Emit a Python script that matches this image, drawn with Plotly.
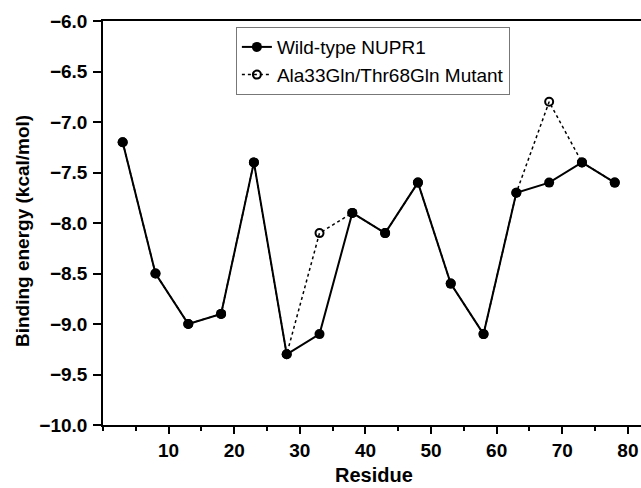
import plotly.graph_objects as go

residues = [3, 8, 13, 18, 23, 28, 33, 38, 43, 48, 53, 58, 63, 68, 73, 78]
wild_type = [-7.2, -8.5, -9.0, -8.9, -7.4, -9.3, -9.1, -7.9, -8.1, -7.6, -8.6, -9.1, -7.7, -7.6, -7.4, -7.6]
mutant = [-7.2, -8.5, -9.0, -8.9, -7.4, -9.3, -8.1, -7.9, -8.1, -7.6, -8.6, -9.1, -7.7, -6.8, -7.4, -7.6]
y_ticks = [-10.0, -9.5, -9.0, -8.5, -8.0, -7.5, -7.0, -6.5, -6.0]
x_ticks = [10, 20, 30, 40, 50, 60, 70, 80]

font = "Liberation Sans, Arial, sans-serif"

fig = go.Figure()
fig.add_trace(go.Scatter(
    x=residues, y=mutant, mode="lines+markers", name="Ala33Gln/Thr68Gln Mutant",
    line=dict(color="black", width=1.5, dash="dot"),
    marker=dict(symbol="circle-open", size=8, color="black", line=dict(width=2, color="black")),
))
fig.add_trace(go.Scatter(
    x=residues, y=wild_type, mode="lines+markers", name="Wild-type NUPR1",
    line=dict(color="black", width=2),
    marker=dict(symbol="circle", size=10, color="black"),
))

fig.update_layout(
    width=641, height=488,
    margin=dict(l=103, r=0, t=21, b=63),
    paper_bgcolor="white", plot_bgcolor="white",
    showlegend=True,
    legend=dict(
        x=0.247, y=0.985, xanchor="left", yanchor="top",
        bgcolor="white", bordercolor="#777777", borderwidth=1,
        font=dict(family=font, size=19, color="black"),
        traceorder="reversed", tracegroupgap=0,
    ),
    xaxis=dict(
        range=[0, 82], tickvals=x_ticks, ticks="outside", ticklen=7, tickwidth=1.5,
        tickcolor="black", showline=True, linecolor="black", linewidth=1.5, mirror=True,
        showgrid=False, zeroline=False,
        tickfont=dict(family=font, size=19, color="black", weight="bold"),
        minor=dict(dtick=5, tick0=5, ticks="outside", ticklen=4, tickwidth=1.5, tickcolor="black", showgrid=False),
    ),
    yaxis=dict(
        range=[-10, -6], tickvals=y_ticks, tickformat=".1f", ticks="outside", ticklen=8, tickwidth=1.5,
        tickcolor="black", showline=True, linecolor="black", linewidth=1.5, mirror=False,
        showgrid=False, zeroline=False, ticklabelstandoff=2,
        tickfont=dict(family=font, size=19, color="black", weight="bold"),
    ),
    annotations=[
        dict(text="<b>Residue</b>", xref="paper", yref="paper", x=0.504, y=-0.155,
             xanchor="center", yanchor="bottom", showarrow=False,
             font=dict(family=font, size=20, color="black")),
        dict(text="<b>Binding energy (kcal/mol)</b>", xref="paper", yref="paper", x=-0.1506, y=0.48,
             xanchor="center", yanchor="middle", textangle=-90, showarrow=False,
             font=dict(family=font, size=19, color="black")),
    ],
)

fig.write_html(
    "out.html",
    config={"displayModeBar": False},
    post_script="document.body.style.margin='0';document.body.style.overflow='hidden';",
)
